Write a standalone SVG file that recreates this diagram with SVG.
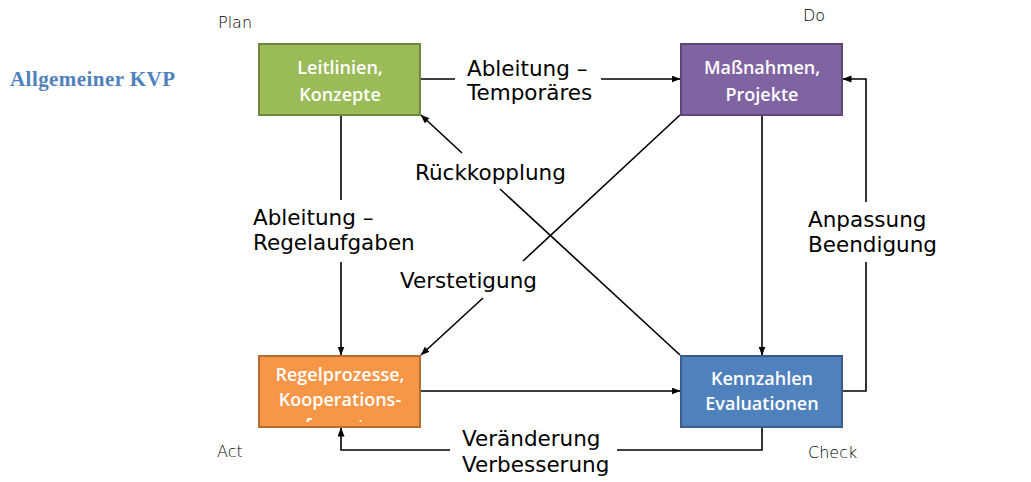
<svg xmlns="http://www.w3.org/2000/svg" width="1031" height="482" viewBox="0 0 1031 482">
<style>
.node{stroke-width:2}
.nt{font-family:"Open Sans","Noto Sans",sans-serif;font-size:18px;font-weight:600;fill:#ffffff;text-anchor:middle}
.lbl{font-family:"DejaVu Sans",Verdana,sans-serif;font-size:21.5px;fill:#000000}
.ph{font-family:"DejaVu Sans",Verdana,sans-serif;font-size:16px;font-weight:200;fill:#000000}
.c{fill:none;stroke:#000000;stroke-width:1.6}
.arr{marker-end:url(#ah)}
</style>
<defs>
<marker id="ah" markerWidth="9" markerHeight="8" refX="8.5" refY="3.5" orient="auto" markerUnits="userSpaceOnUse">
<path d="M0,0 L9,3.5 L0,7 z" fill="#000000"/>
</marker>
<clipPath id="clipOrange"><rect x="259" y="356" width="161" height="66"/></clipPath>
</defs>
<rect x="0" y="0" width="1031" height="482" fill="#ffffff"/>
<text x="10" y="86" style="font-family:'Liberation Serif','Times New Roman',serif;font-size:21px;font-weight:bold;fill:#4f81bd" textLength="165">Allgemeiner KVP</text>
<g id="phases">
<text class="ph" x="218" y="28">Plan</text>
<text class="ph" x="803" y="21">Do</text>
<text class="ph" x="217" y="457">Act</text>
<text class="ph" x="808" y="458">Check</text>
</g>
<g id="connectors">
<polyline class="c" points="421,79 455,79"/>
<polyline class="c arr" points="601,79 680,79"/>
<polyline class="c" points="341,115 341,200"/>
<polyline class="c arr" points="341,262 341,355"/>
<polyline class="c arr" points="462,153 421,115"/>
<polyline class="c" points="500,189 680,355"/>
<polyline class="c" points="680,115 523,261"/>
<polyline class="c arr" points="483,298 421,355"/>
<polyline class="c arr" points="762,115 762,355"/>
<polyline class="c arr" points="421,391 680,391"/>
<polyline class="c" points="843,391 866,391 866,262"/>
<polyline class="c arr" points="866,202 866,79 843,79"/>
<polyline class="c" points="762,428 762,450 617,450"/>
<polyline class="c arr" points="450,450 341,450 341,428"/>
<text class="lbl" x="467" y="76">Ableitung –</text>
<text class="lbl" x="467" y="100">Temporäres</text>
<text class="lbl" x="253" y="225">Ableitung –</text>
<text class="lbl" x="253" y="250">Regelaufgaben</text>
<text class="lbl" x="415" y="180">Rückkopplung</text>
<text class="lbl" x="400" y="288">Verstetigung</text>
<text class="lbl" x="808" y="227">Anpassung</text>
<text class="lbl" x="808" y="252">Beendigung</text>
<text class="lbl" x="462" y="446">Veränderung</text>
<text class="lbl" x="462" y="472">Verbesserung</text>
</g>
<g id="node-plan">
<rect class="node" x="259" y="44" width="161" height="71" fill="#9bbb59" stroke="#71893f"/>
<text class="nt" x="340" y="74">Leitlinien,</text>
<text class="nt" x="340" y="101">Konzepte</text>
</g>
<g id="node-do">
<rect class="node" x="681" y="44" width="161" height="71" fill="#8064a2" stroke="#5c4776"/>
<text class="nt" x="762" y="74">Maßnahmen,</text>
<text class="nt" x="762" y="101">Projekte</text>
</g>
<g id="node-act">
<rect class="node" x="259" y="356" width="161" height="71" fill="#f79646" stroke="#b66d31"/>
<g clip-path="url(#clipOrange)">
<text class="nt" x="340" y="381">Regelprozesse,</text>
<text class="nt" x="340" y="406">Kooperations-</text>
<text class="nt" x="340" y="432">formate</text>
</g>
</g>
<g id="node-check">
<rect class="node" x="681" y="356" width="161" height="71" fill="#4f81bd" stroke="#385d8a"/>
<text class="nt" x="762" y="385">Kennzahlen</text>
<text class="nt" x="762" y="410">Evaluationen</text>
</g>
</svg>
